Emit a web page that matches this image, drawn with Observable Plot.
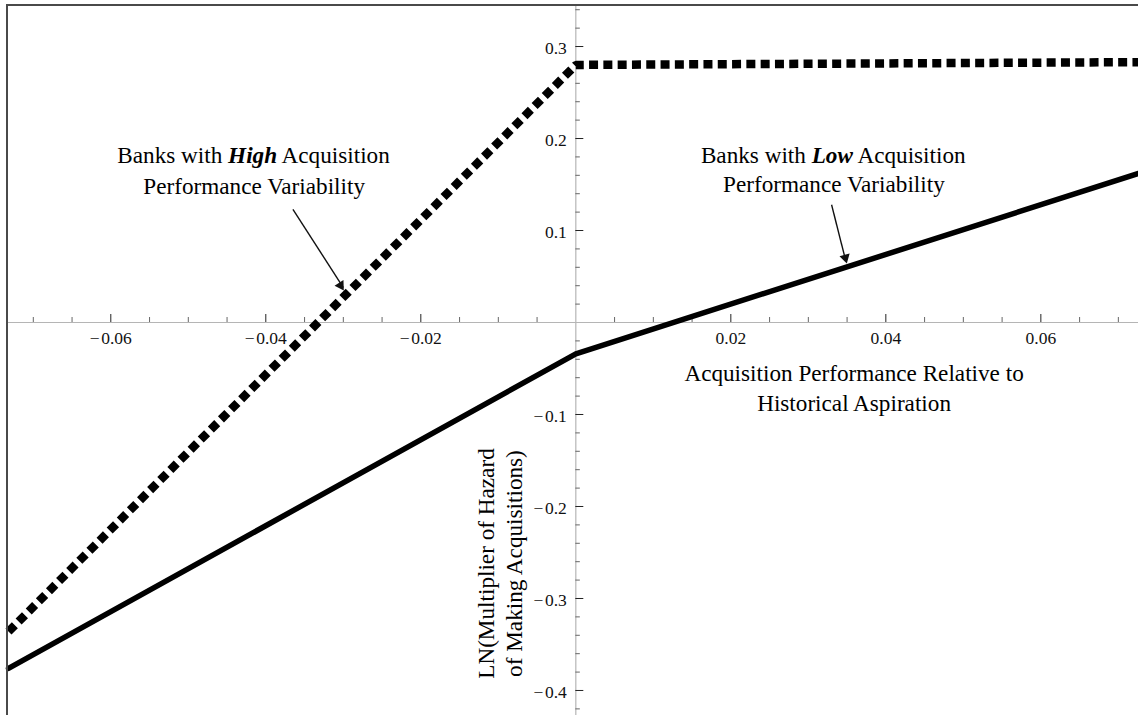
<!DOCTYPE html>
<html>
<head>
<meta charset="utf-8">
<script src="https://cdn.jsdelivr.net/npm/d3@7"></script>
<script src="https://cdn.jsdelivr.net/npm/@observablehq/plot@0.6"></script>
<style>
  html, body { margin: 0; padding: 0; background: #fff; }
  #wrap { position: relative; width: 1138px; height: 715px; overflow: hidden; }
  #frame { position: absolute; left: 6px; top: 4px; right: -4px; bottom: -4px;
           border-left: 2px solid #4a4a4a; border-top: 2px solid #4a4a4a; pointer-events: none; }
  svg { display: block; }
</style>
</head>
<body>
<div id="wrap"><div id="frame"></div></div>
<script>
// ---- data ----
const xBreaks = [-0.0732, 0, 0.0726];
const highY = [-0.336, 0.280, 0.283];   // Banks with High variability (dotted)
const lowY  = [-0.376, -0.034, 0.162];  // Banks with Low variability (solid)

const xMajorTicks = [-0.06, -0.04, -0.02, 0.02, 0.04, 0.06];
const xTickLabels = ["\u2212\u200a0.06", "\u2212\u200a0.04", "\u2212\u200a0.02", "0.02", "0.04", "0.06"];
const yMajorTicks = [0.3, 0.2, 0.1, -0.1, -0.2, -0.3, -0.4];
const yTickLabels = ["0.3", "0.2", "0.1", "\u2212\u200a0.1", "\u2212\u200a0.2", "\u2212\u200a0.3", "\u2212\u200a0.4"];

const xMinorTicks = d3.range(-14, 15).map(i => +(i * 0.005).toFixed(3))
  .filter(v => v !== 0 && !xMajorTicks.includes(v));
const yMinorTicks = d3.range(-21, 18).map(i => +(i * 0.02).toFixed(2))
  .filter(v => v !== 0 && Math.abs(v * 10 - Math.round(v * 10)) > 1e-6);

// annotation positions (data units)
const annHigh = {x: -0.0415, y1: 0.1815, y2: 0.1478, pre: "Banks with ", em: "High", post: " Acquisition", line2: "Performance Variability"};
const annLow  = {x: 0.0333,  y1: 0.1815, y2: 0.1500, pre: "Banks with ", em: "Low",  post: " Acquisition", line2: "Performance Variability"};
const xTitle = {x: 0.0359, y: -0.0696, text: "Acquisition Performance Relative to\nHistorical Aspiration"};
const yTitle = {x: -0.0099, y: -0.262, text: "LN(Multiplier of Hazard\nof Making Acquisitions)"};
const arrows = [
  {x1: -0.0365, y1: 0.1230, x2: -0.0300, y2: 0.0380, hx: -0.03035, hy: 0.0403, rot: 148},
  {x1: 0.0330,  y1: 0.1280, x2: 0.0348,  y2: 0.0680, hx: 0.03477,  hy: 0.0704, rot: 165.5}
];

const high = xBreaks.map((x, i) => ({x, y: highY[i]}));
const low  = xBreaks.map((x, i) => ({x, y: lowY[i]}));

// ---- layout ----
const W = 1138, H = 715, mL = 8, mT = 5, mR = 0, mB = 0;
const xDom = [-0.0732, 0.0726], yDom = [-0.4272, 0.3446];
const pxX = (W - mL - mR) / (xDom[1] - xDom[0]);
const pxY = (H - mT - mB) / (yDom[1] - yDom[0]);

const FONT = "'Liberation Serif', 'Times New Roman', serif";
const FS = 23.2;
const cv = document.createElement("canvas").getContext("2d");
function tw(s, style) { cv.font = `${style} ${FS}px ${FONT}`; return cv.measureText(s).width; }
function richLine(a) {
  const wA = tw(a.pre, ""), wB = tw(a.em, "italic bold"), wC = tw(a.post, "");
  const s = -(wA + wB + wC) / 2;
  const common = {fontSize: FS, textAnchor: "start", fill: "black"};
  return [
    Plot.text([a], {x: "x", y: "y1", text: d => d.pre, dx: s, ...common}),
    Plot.text([a], {x: "x", y: "y1", text: d => d.em, dx: s + wA, fontWeight: "bold", fontStyle: "italic", ...common}),
    Plot.text([a], {x: "x", y: "y1", text: d => d.post, dx: s + wA + wB, ...common}),
    Plot.text([a], {x: "x", y: "y2", text: d => d.line2, fontSize: FS, fill: "black"})
  ];
}

const chart = Plot.plot({
  width: W, height: H,
  marginLeft: mL, marginTop: mT, marginRight: mR, marginBottom: mB,
  x: {domain: xDom, axis: null},
  y: {domain: yDom, axis: null},
  style: {fontFamily: FONT, background: "white", overflow: "visible"},
  marks: [
    // axes through origin
    Plot.ruleY([0], {stroke: "#b5b5b5", strokeWidth: 1.2}),
    Plot.ruleX([0], {stroke: "#b5b5b5", strokeWidth: 1.2}),
    Plot.ruleX(xMinorTicks, {x: d => d, y1: 0, y2: 5 / pxY, stroke: "#666", strokeWidth: 1}),
    Plot.ruleX(xMajorTicks, {x: d => d, y1: 0, y2: 8 / pxY, stroke: "#222", strokeWidth: 1}),
    Plot.ruleY(yMinorTicks, {y: d => d, x1: 0, x2: 4.5 / pxX, stroke: "#666", strokeWidth: 1}),
    Plot.ruleY(yMajorTicks, {y: d => d, x1: 0, x2: 8 / pxX, stroke: "#222", strokeWidth: 1}),
    Plot.text(xMajorTicks, {x: d => d, y: 0, text: (d, i) => xTickLabels[i], dy: 16, fontSize: 17.5, fill: "#111"}),
    Plot.text(yMajorTicks, {x: 0, y: d => d, text: (d, i) => yTickLabels[i], dx: -9, dy: 2, textAnchor: "end", fontSize: 17.5, fill: "#111"}),
    // series
    Plot.line(low, {x: "x", y: "y", stroke: "black", strokeWidth: 5.5}),
    Plot.line(high, {x: "x", y: "y", stroke: "black", strokeWidth: 8.5, strokeDasharray: "9,5.3",
                     strokeLinecap: "butt", strokeLinejoin: "miter"}),
    // annotations
    ...richLine(annHigh),
    ...richLine(annLow),
    Plot.text([xTitle], {x: "x", y: "y", text: "text", fontSize: FS, lineHeight: 1.3, fill: "black"}),
    Plot.text([yTitle], {x: "x", y: "y", text: "text", fontSize: FS, lineHeight: 1.22, rotate: -90, fill: "black"}),
    Plot.link(arrows, {x1: "x1", y1: "y1", x2: "x2", y2: "y2", stroke: "#111", strokeWidth: 1.4}),
    Plot.dot(arrows, {x: "hx", y: "hy", symbol: "triangle2", r: 5, rotate: "rot", fill: "#111", stroke: "none"})
  ]
});
document.getElementById("wrap").prepend(chart);
</script>
</body>
</html>
